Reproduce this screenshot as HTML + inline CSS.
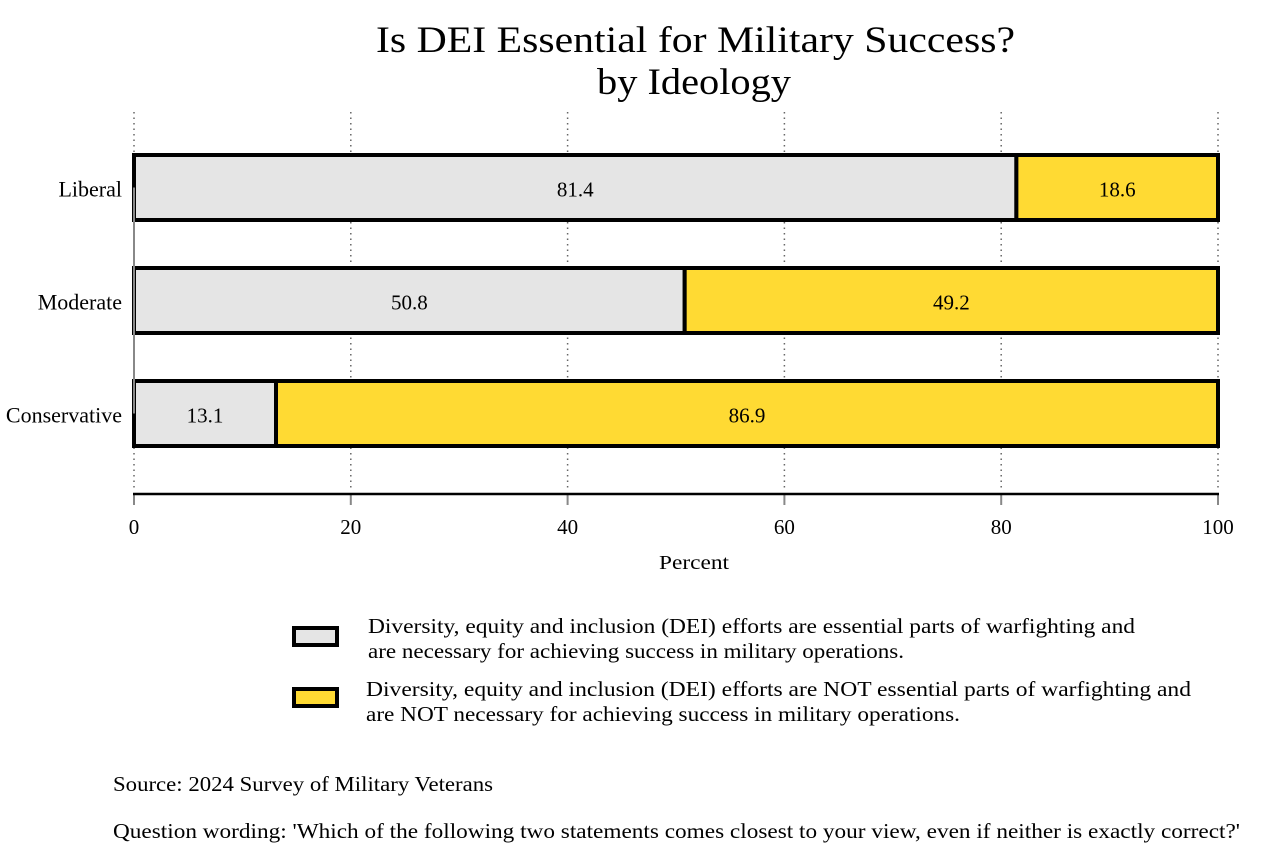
<!DOCTYPE html>
<html><head><meta charset="utf-8"><style>
body{margin:0;background:#fff;}
svg{display:block;font-family:"Liberation Serif",serif;}
</style></head><body>
<svg id="chart" width="1275" height="861">
<text x="376" y="52" font-size="37" textLength="639" lengthAdjust="spacingAndGlyphs">Is DEI Essential for Military Success?</text>
<text x="597" y="94" font-size="37" textLength="194" lengthAdjust="spacingAndGlyphs">by Ideology</text>
<g id="grid"></g><g id="bars"></g><g id="axis"></g>
<text x="659" y="569" font-size="20" textLength="70" lengthAdjust="spacingAndGlyphs">Percent</text>
<rect x="294" y="628" width="43" height="17" fill="#e5e5e5" stroke="#000" stroke-width="4"/>
<text font-size="21"><tspan x="368" y="633" textLength="767" lengthAdjust="spacingAndGlyphs">Diversity, equity and inclusion (DEI) efforts are essential parts of warfighting and</tspan><tspan x="368" y="658" textLength="536" lengthAdjust="spacingAndGlyphs">are necessary for achieving success in military operations.</tspan></text>
<rect x="294" y="689" width="43" height="17" fill="#ffda33" stroke="#000" stroke-width="4"/>
<text font-size="21"><tspan x="366" y="696" textLength="825" lengthAdjust="spacingAndGlyphs">Diversity, equity and inclusion (DEI) efforts are NOT essential parts of warfighting and</tspan><tspan x="366" y="721" textLength="594" lengthAdjust="spacingAndGlyphs">are NOT necessary for achieving success in military operations.</tspan></text>
<text x="113" y="791" font-size="21" textLength="380" lengthAdjust="spacingAndGlyphs">Source: 2024 Survey of Military Veterans</text>
<text x="113" y="838" font-size="21" textLength="1127" lengthAdjust="spacingAndGlyphs">Question wording: 'Which of the following two statements comes closest to your view, even if neither is exactly correct?'</text>
</svg>
<script>
const categories = ["Liberal","Moderate","Conservative"];
const essential = [81.4, 50.8, 13.1];
const notEssential = [18.6, 49.2, 86.9];
const ticks = [0,20,40,60,80,100];
const NS="http://www.w3.org/2000/svg";
const x = v => 134 + v*10.84;
const yTop = i => 155 + i*113;
const BH = 65;
function mk(tag, attrs, parent){const e=document.createElementNS(NS,tag);for(const k in attrs)e.setAttribute(k,attrs[k]);parent.appendChild(e);return e;}
const grid=document.getElementById('grid'), bars=document.getElementById('bars'), axis=document.getElementById('axis');
ticks.forEach(t=>{
  const g=mk('line',{x1:x(t),x2:x(t),y1:112,y2:488,stroke:'#666','stroke-width':1.5,'stroke-dasharray':'1.5 4'},grid);
  
  
  const tk=mk('line',{x1:x(t),x2:x(t),y1:494,y2:505,stroke:'#888','stroke-width':2},axis);
  
  
  const lb=mk('text',{x:x(t),y:534,'font-size':21,'text-anchor':'middle'},axis);
  lb.textContent=t;
  
  
});
const ax=mk('line',{x1:x(0)-1,x2:x(100)+1,y1:494,y2:494,stroke:'#000','stroke-width':2.5},axis);


categories.forEach((c,i)=>{
  const y=yTop(i);
  const a=essential[i], b=notEssential[i];
  const r1=mk('rect',{x:x(0),y:y,width:x(a)-x(0),height:BH,fill:'#e5e5e5',stroke:'#000','stroke-width':4},bars);
  
  
  const r2=mk('rect',{x:x(a),y:y,width:x(a+b)-x(a),height:BH,fill:'#ffda33',stroke:'#000','stroke-width':4},bars);
  
  
  const t1=mk('text',{x:(x(0)+x(a))/2,y:y+BH/2+9,'font-size':21,'text-anchor':'middle'},bars);
  t1.textContent=a.toFixed(1);
  
  
  const t2=mk('text',{x:(x(a)+x(a+b))/2,y:y+BH/2+9,'font-size':21,'text-anchor':'middle'},bars);
  t2.textContent=b.toFixed(1);
  
  
  const cl=mk('text',{x:122,y:y+BH/2+9,'font-size':22,'text-anchor':'end'},bars);
  cl.textContent=c;
  
  
});
const yl=mk('line',{x1:134,x2:134,y1:yTop(0)+BH/2,y2:yTop(2)+BH/2,stroke:'#888','stroke-width':2},bars);


</script>
</body></html>
